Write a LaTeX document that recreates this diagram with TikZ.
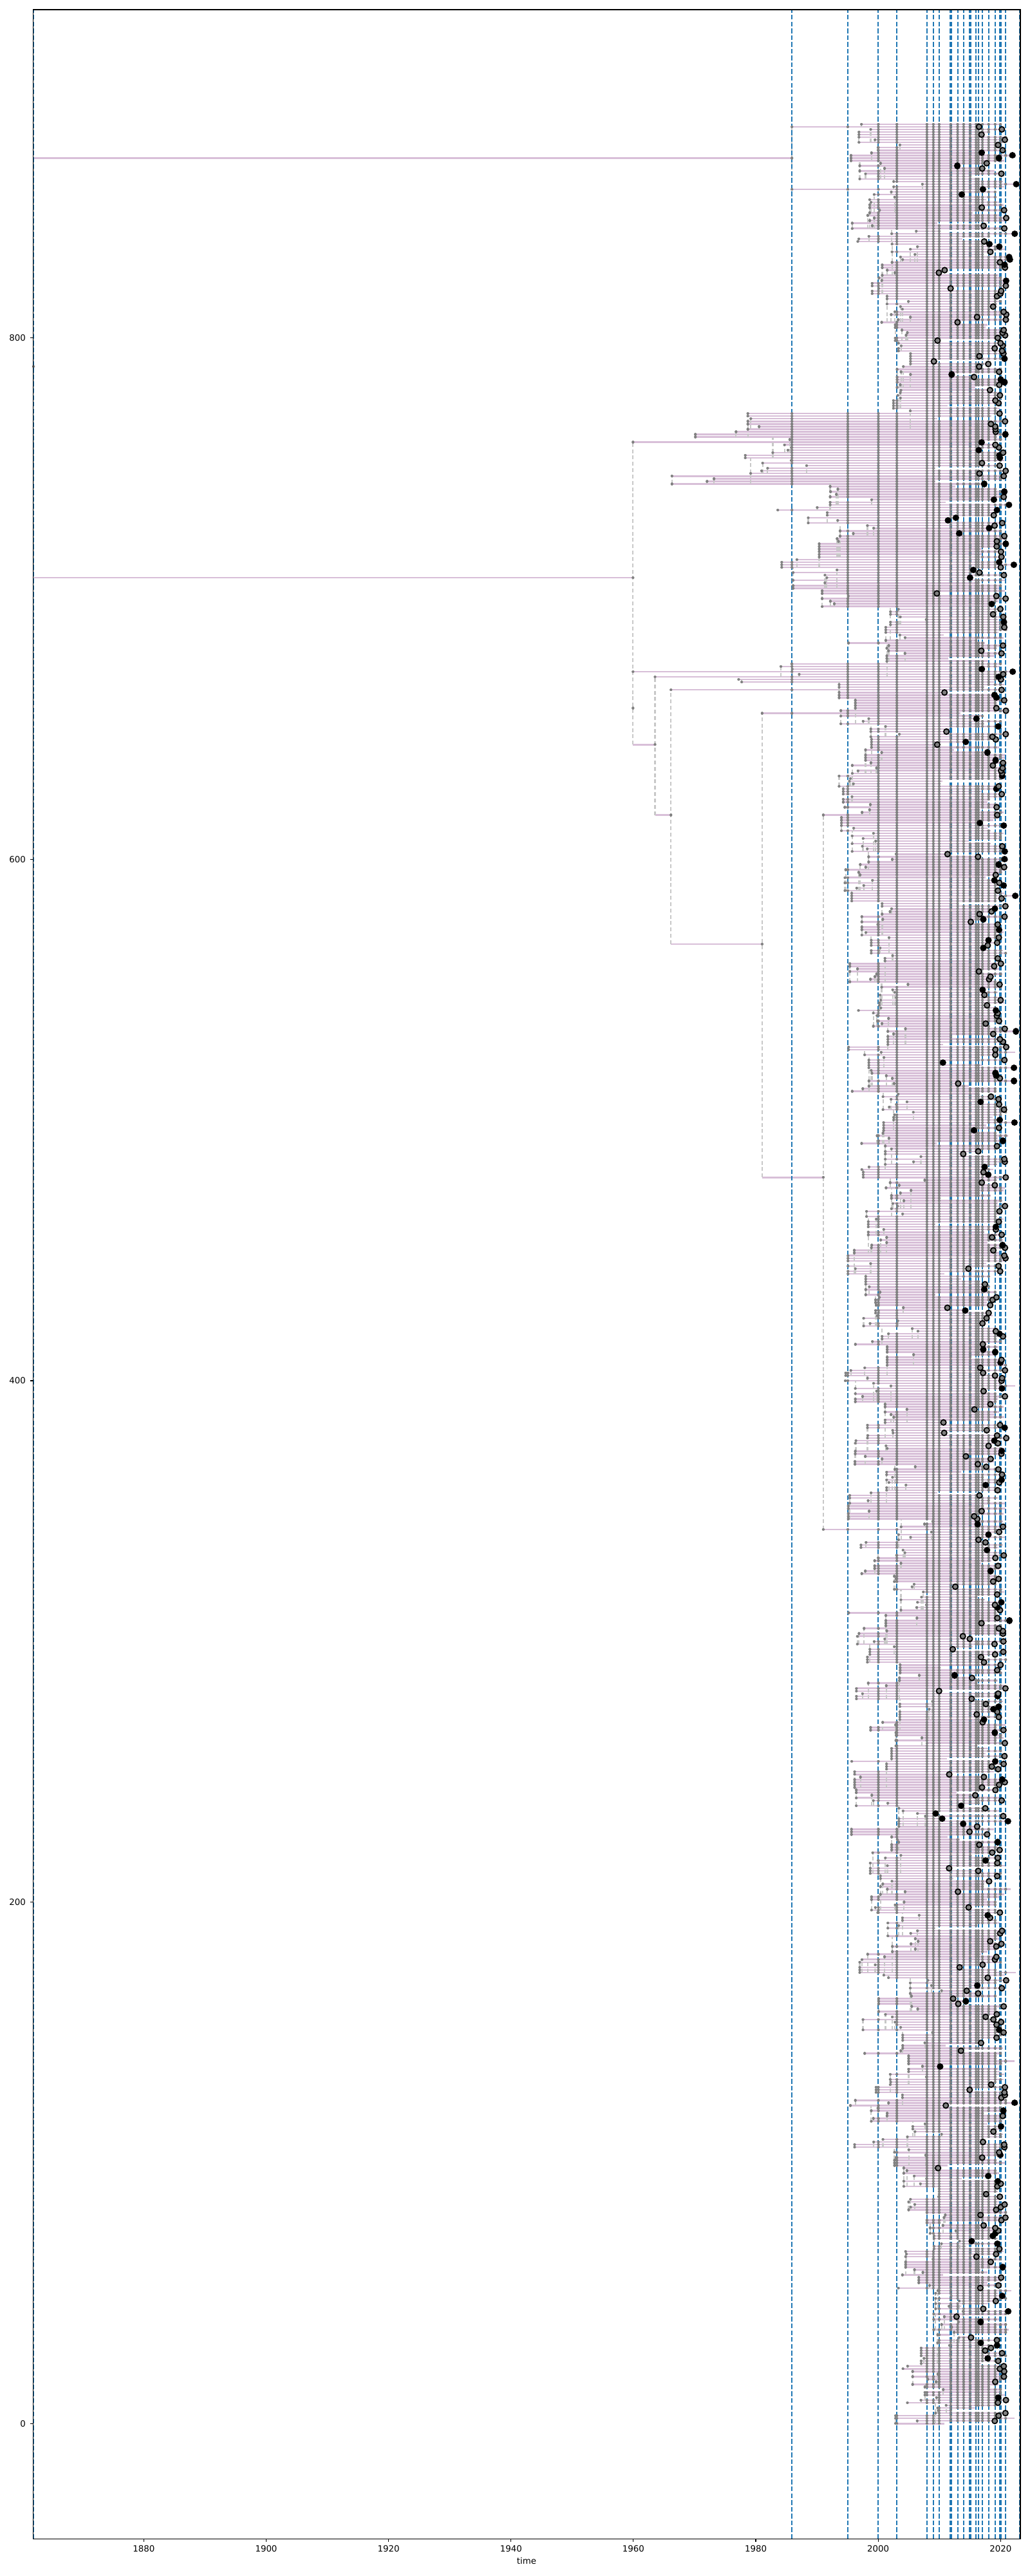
\documentclass[tikz,border=0pt]{standalone}
\usepackage{fontspec}
\setmainfont{DejaVu Sans}
\definecolor{sampleblue}{HTML}{1F77B4}
\definecolor{branchpink}{HTML}{D8BFD8}
\definecolor{nodegrey}{HTML}{808080}
\definecolor{linkgrey}{HTML}{C8C8C8}
\tikzset{
  branch/.style={draw=branchpink,line width=0.71pt},
  link/.style={draw=linkgrey,line width=0.62pt,dash pattern=on 1.7pt off 1.1pt},
  sample/.style={draw=sampleblue,line width=0.57pt,dash pattern=on 2.1pt off 0.9pt},
  nodedot/.style={draw=nodegrey,line width=1.25pt,line cap=round},
  tipdot/.style={draw=black,line width=2.9pt,line cap=round},
  tipring/.style={fill=nodegrey,draw=black,line width=0.5pt},
  ticklabel/.style={font=\fontsize{3.8}{4.6}\selectfont,inner sep=0pt}
}
\newcount\cladeleft
\def\sampleyears{1861.94,1985.87,1995.0,2000.0,2003.02,2007.93,2008.98,2009.93,2011.72,2011.92,2012.94,2013.93,2014.88,2015.08,2015.96,2016.34,2017.0,2018.01,2019.07,2019.85,2020.05,2020.8,2023.14}
\def\dotyears{1985.87,1995.0,2000.0,2003.02,2007.93,2008.98,2009.93,2011.82,2012.94,2013.93,2014.98,2015.96,2016.34,2017.0,2018.01,2019.07,2019.95,2020.8}
\def\regionof#1{%
  \def\lowyear{2002}\def\spread{8}%
  \ifnum#1>99 \def\lowyear{1995}\def\spread{11}\fi
  \ifnum#1>175 \def\lowyear{1995}\def\spread{9}\fi
  \ifnum#1>342 \def\lowyear{1994}\def\spread{10}\fi
  \ifnum#1>487 \def\lowyear{1995}\def\spread{8}\fi
  \ifnum#1>576 \def\lowyear{1993}\def\spread{8}\fi
  \ifnum#1>664 \def\lowyear{1975}\def\spread{10}\fi
  \ifnum#1>672 \def\lowyear{1995}\def\spread{7}\fi
  \ifnum#1>690 \def\lowyear{1983}\def\spread{12}\fi
  \ifnum#1>742 \def\lowyear{1966}\def\spread{17}\fi
  \ifnum#1>765 \def\lowyear{2002}\def\spread{4}\fi
  \ifnum#1>802 \def\lowyear{1995}\def\spread{8}\fi
  \ifnum#1>866 \def\lowyear{1995}\def\spread{6}\fi}
\def\override#1{%
  \ifnum#1=881 \def\tstart{1985.87}\def\skiplink{1}\fi
  \ifnum#1=857 \def\tstart{1985.87}\def\skiplink{1}\fi
  \ifnum#1=760 \def\tstart{1959.9}\def\skiplink{1}\fi
  \ifnum#1=672 \def\tstart{1959.9}\def\skiplink{1}\fi
  \ifnum#1=670 \def\tstart{1963.5}\def\skiplink{1}\fi
  \ifnum#1=665 \def\tstart{1966.1}\def\skiplink{1}\fi
  \ifnum#1=656 \def\tstart{1981}\def\skiplink{1}\fi
  \ifnum#1=617 \def\tstart{1991}\def\skiplink{1}\fi
  \ifnum#1=343 \def\tstart{1991}\def\skiplink{1}\fi}
% pass 1 branches, 2 links, 3 dots, 4 tips
\newcommand\growtree[1]{%
  \pgfmathsetseed{4711}%
  \global\cladeleft=0
  \gdef\cladestart{2000}\gdef\cladetop{0}%
  \foreach \i in {0,...,882}{%
    \regionof{\i}%
    \def\skiplink{0}%
    \ifnum\cladeleft<1
      \pgfmathrandominteger{\cladesize}{1}{8}%
      \global\cladeleft=\cladesize\relax
      \pgfmathsetmacro{\tstart}{\lowyear+\spread*rnd}%
      \pgfmathsetmacro{\linkx}{max(\tstart,\cladestart)}%
      \edef\linkfrom{\cladetop}%
      \xdef\cladestart{\tstart}\xdef\cladetop{\i}%
    \else
      \pgfmathrandominteger{\pick}{0}{99}%
      \ifnum\pick<45\relax
        \let\tstart\cladestart
      \else
        \pgfmathsetmacro{\tstart}{\cladestart+0.6*\spread*rnd}%
      \fi
      \let\linkx\tstart
      \edef\linkfrom{\cladetop}%
    \fi
    \global\advance\cladeleft by -1\relax
    \override{\i}%
    \pgfmathrandominteger{\endpick}{0}{99}%
    \ifnum\endpick<60\relax
      \pgfmathsetmacro{\tend}{2019+1.9*rnd}%
    \else\ifnum\endpick<85\relax
      \pgfmathsetmacro{\tend}{2016+3*rnd}%
    \else\ifnum\endpick<97\relax
      \pgfmathsetmacro{\tend}{2009+7*rnd}%
    \else
      \pgfmathsetmacro{\tend}{2021+1.6*rnd}%
    \fi\fi\fi
    \pgfmathsetmacro{\tend}{max(\tend,\tstart+2)}%
    \pgfmathrandominteger{\tippick}{0}{99}%
    \ifcase#1\or
      \draw[branch] (\tstart,\i) -- (\tend,\i);
    \or
      \ifnum\skiplink=0 \draw[link] (\linkx,\linkfrom) -- (\linkx,\i);\fi
    \or
      \xdef\dotpath{(\tstart,\i) -- ++(0.002,0)}%
      \foreach \yr in \dotyears {%
        \ifdim\yr pt<\tstart pt\else\ifdim\yr pt>\tend pt\else
          \xdef\dotpath{\dotpath (\yr,\i) -- ++(0.002,0)}%
        \fi\fi}%
      \draw[nodedot] \dotpath;
    \or
      \ifdim\tend pt>2021pt
        \ifnum\tippick<65\relax \draw[tipdot] (\tend,\i) -- ++(0.002,0);\fi
      \else
        \ifnum\tippick<15\relax
          \draw[tipdot] (\tend,\i) -- ++(0.002,0);
        \else\ifnum\tippick<60\relax
          \filldraw[tipring] (\tend,\i) circle[radius=0.042cm];
        \fi\fi
      \fi
    \fi
  }}
\begin{document}
\begin{tikzpicture}
\useasboundingbox (0,0) rectangle (16,40);
\begin{scope}[x=0.09506cm,y=0.04048cm,xshift=-176.479cm,yshift=2.367cm]
  \growtree{1}
  \draw[branch] (1861.94,869) -- (1985.87,869);
  \draw[branch] (1861.94,708) -- (1959.9,708);
  \draw[branch] (1959.9,644) -- (1963.5,644);
  \draw[branch] (1963.5,617) -- (1966.1,617);
  \draw[branch] (1966.1,567.5) -- (1981,567.5);
  \draw[branch] (1981,478) -- (1991,478);
  \growtree{2}
  \draw[link] (1861.94,708) -- (1861.94,869);
  \draw[link] (1985.87,857) -- (1985.87,881);
  \draw[link] (1959.9,644) -- (1959.9,760);
  \draw[link] (1963.5,617) -- (1963.5,670);
  \draw[link] (1966.1,567.5) -- (1966.1,665);
  \draw[link] (1981,478) -- (1981,656);
  \draw[link] (1991,343) -- (1991,617);
  \foreach \yr in \sampleyears
    \draw[sample] (\yr,-44.2) -- (\yr,926.1);
  \growtree{3}
  \foreach \x/\y in {1861.94/789,1985.87/869,1959.9/708,1959.9/658,1963.5/644,1966.1/617,1981/567.5,1991/478}
    \draw[nodedot] (\x,\y) -- ++(0.002,0);
  \growtree{4}
\end{scope}
\draw[line width=0.45pt] (0.517,0.577) rectangle (15.85,39.85);
\foreach \yr in {1880,1900,...,2020}{
  \pgfmathsetmacro{\xc}{0.517+(\yr-1861.94)*0.09506}
  \draw[line width=0.3pt] (\xc,0.577) -- (\xc,0.528);
  \node[ticklabel] (xt\yr) at (\xc,0.427) {\yr};
}
\foreach \v in {0,200,...,800}{
  \pgfmathsetmacro{\yc}{2.367+0.04048*\v}
  \draw[line width=0.3pt] (0.517,\yc) -- (0.468,\yc);
  \node[ticklabel,anchor=east] (yt\v) at (0.405,\yc) {\v};
}
\node[ticklabel] (xlabel) at (8.18,0.235) {time};
\end{tikzpicture}
\end{document}
